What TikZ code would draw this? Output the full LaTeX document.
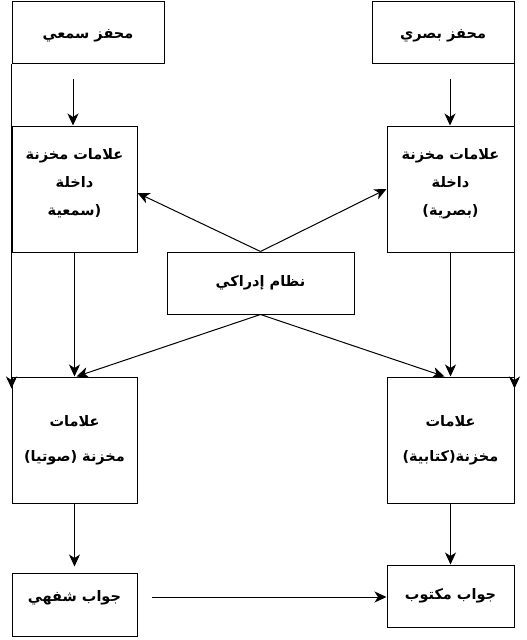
\documentclass[tikz,border=0pt]{standalone}
\usepackage{fontspec}
\usetikzlibrary{arrows.meta,calc}
\TeXXeTstate=1
\newfontfamily\arabicfont[Script=Arabic]{DejaVu Sans}
\newcommand{\artxt}[1]{\beginR #1\endR}
\begin{document}
\begin{tikzpicture}[x=1pt,y=-1pt,
  box/.style={draw,line width=1pt,inner sep=0pt,align=center,
    font=\arabicfont\bfseries\fontsize{14.5}{28}\selectfont},
  arr/.style={draw,line width=1pt,-{Stealth[length=12pt,width=11pt,inset=3.5pt]}}]
\useasboundingbox (0,0) rectangle (527,640);
\fill[white] (0,0) rectangle (527,640);
% boxes
\node[box,minimum width=152pt,minimum height=62pt,text height=16pt] (b1) at (88,32) {\artxt{محفز سمعي}};
\node[box,minimum width=142pt,minimum height=62pt,text height=16pt] (b2) at (443,32) {\artxt{محفز بصري}};
\node[box,minimum width=125pt,minimum height=126pt,text depth=14pt] (b3) at (74.5,189) {\artxt{علامات مخزنة}\\\artxt{داخلة}\\\artxt{(سمعية}};
\node[box,minimum width=127pt,minimum height=126pt,text depth=14pt] (b4) at (450.5,189) {\artxt{علامات مخزنة}\\\artxt{داخلة}\\\artxt{(بصرية)}};
\node[box,minimum width=187pt,minimum height=62pt] (c) at (260.5,283) {\artxt{نظام إدراكي}};
\node[box,minimum width=125pt,minimum height=126pt,
  font=\arabicfont\bfseries\fontsize{14.5}{35}\selectfont] (b5) at (74.5,440) {\artxt{علامات}\\\artxt{مخزنة (صوتيا)}};
\node[box,minimum width=127pt,minimum height=126pt,
  font=\arabicfont\bfseries\fontsize{14.5}{35}\selectfont] (b6) at (450.5,440) {\artxt{علامات}\\\artxt{مخزنة(كتابية)}};
\node[box,minimum width=125pt,minimum height=63pt,text depth=17pt] (b7) at (74.5,604.5) {\artxt{جواب شفهي}};
\node[box,minimum width=127pt,minimum height=62pt] (b8) at (450.5,596) {\artxt{جواب مكتوب}};
% free starts
\coordinate (s1) at (73,79);
\coordinate (s2) at (450,79);
\coordinate (s7) at (152,597);
% connectors
\draw[arr] (s1) -- (s1 |- b3.north);
\draw[arr] (s2) -- (s2 |- b4.north);
\draw[arr] (b3.south) -- (b5.north);
\draw[arr] (b4.south) -- (b6.north);
\draw[arr,shorten >=6pt] (b5.south) -- (b7.north);
\draw[arr] (b6.south) -- (b8.north);
\draw[arr] (s7) -- (s7 -| b8.west);
\draw[arr] (c.north) -- ($(b3.east)+(0,4)$);
\draw[arr] (c.north) -- (b4.west);
\draw[arr] (c.south) -- ($(b5.north)+(2,0)$);
\draw[arr] (c.south) -- ($(b6.north)+(-6,0)$);
\draw[arr] (b1.south west) -- ($(b5.north west)+(0,12)$);
\draw[arr] (b2.south east) -- ($(b6.north east)+(0,12)$);
\end{tikzpicture}
\end{document}
